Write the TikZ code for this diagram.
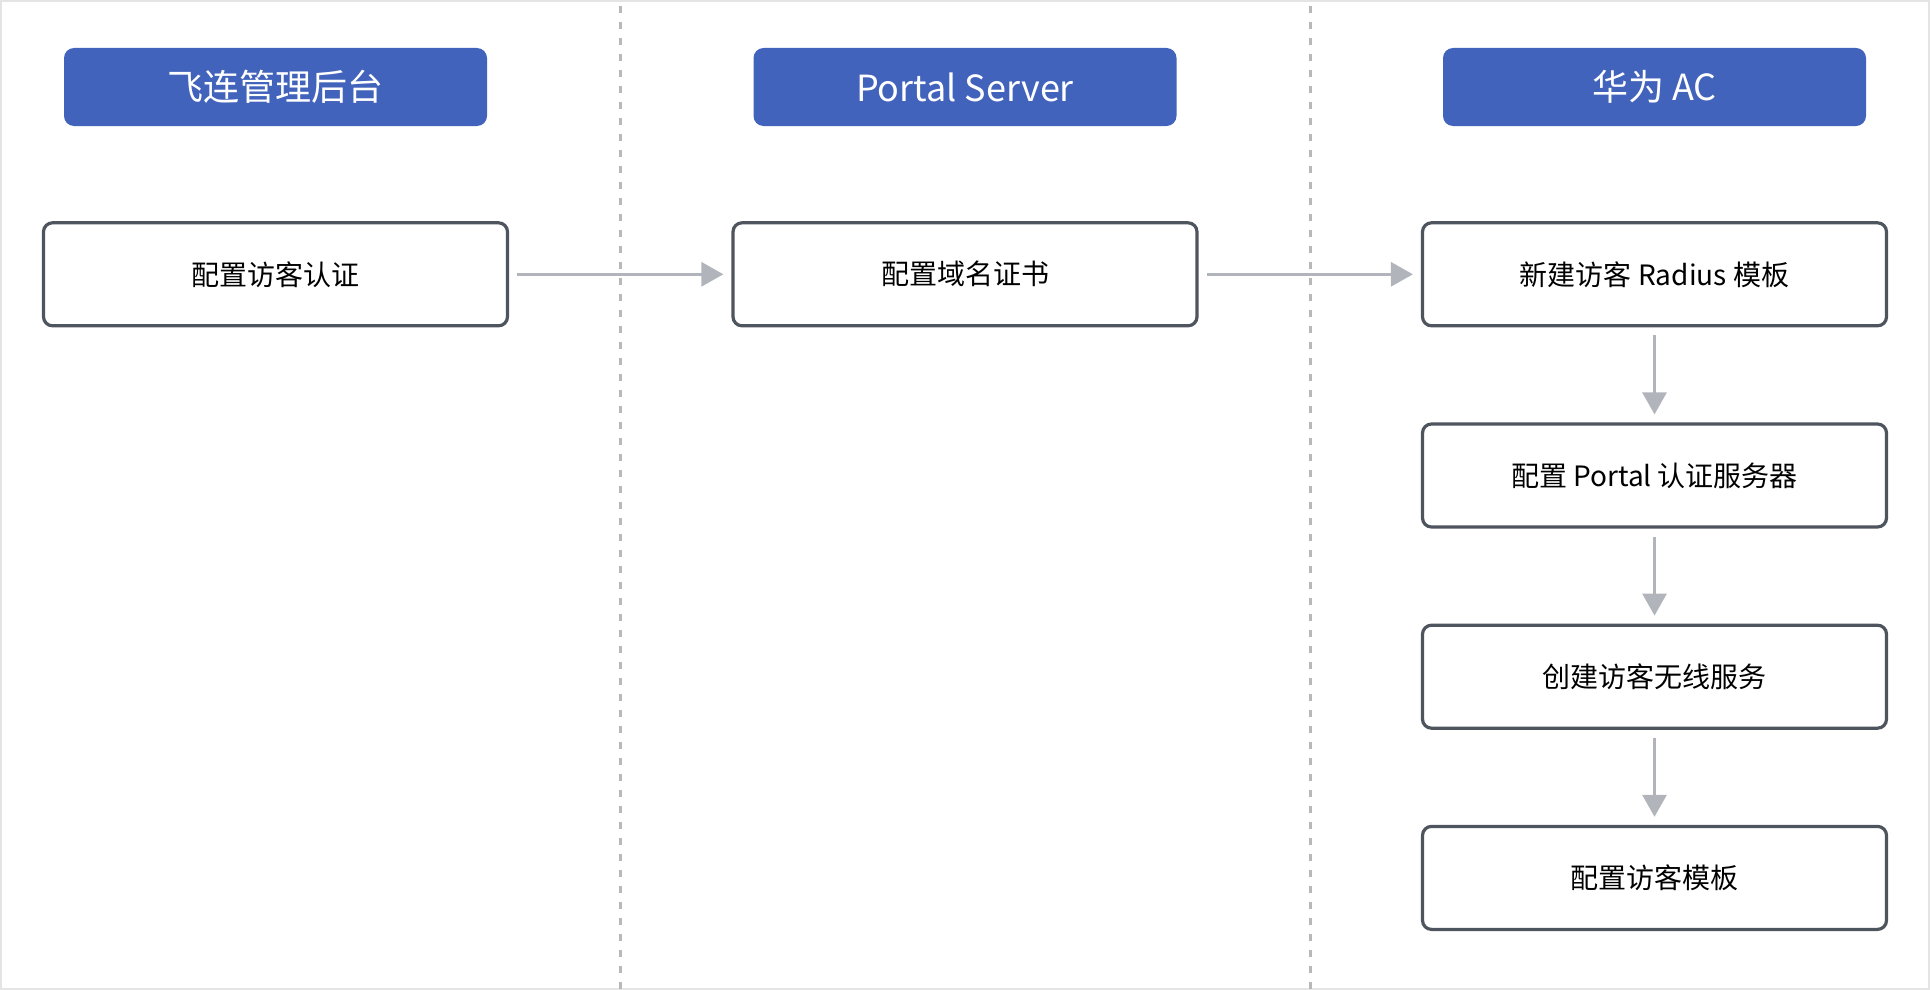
\documentclass[tikz,border=0pt]{standalone}
\usepackage{fontspec}
\setmainfont{Noto Sans CJK SC}
\usetikzlibrary{positioning,arrows.meta}
\definecolor{headblue}{HTML}{4263BC}
\definecolor{boxline}{HTML}{4F555E}
\definecolor{arrowgray}{HTML}{B1B4BB}
\definecolor{lanegray}{HTML}{B8B8B8}
\definecolor{framegray}{HTML}{E4E4E4}
\tikzset{
  lanehead/.style={fill=headblue, text=white, rounded corners=10pt, minimum width=423pt, minimum height=78pt, font=\fontsize{36}{42}\selectfont},
  stepbox/.style={draw=boxline, line width=3.2pt, fill=white, rounded corners=9pt, minimum width=464pt, minimum height=103pt, font=\fontsize{28}{34}\selectfont},
  flow/.style={draw=arrowgray, line width=3pt, -{Triangle[length=22pt,width=24pt]}, shorten <=8pt, shorten >=8pt},
  lanesep/.style={draw=lanegray, line width=3pt, dash pattern=on 7pt off 9pt}
}
\begin{document}
\begin{tikzpicture}[x=1pt, y=-1pt, node distance=95pt]
    \useasboundingbox (0,0) rectangle (1930,990);
    \draw[framegray, line width=2pt] (1,1) rectangle (1929,989);

    % lane separators
    \coordinate (d1t) at (620,6);
    \coordinate (d1b) at (620,990);
    \coordinate (d2t) at (1310,6);
    \coordinate (d2b) at (1310,990);
    \draw[lanesep] (d1t) -- (d1b);
    \draw[lanesep] (d2t) -- (d2b);

    % lane headers
    \node[lanehead] (h1) at (275.5,87) {飞连管理后台};
    \node[lanehead] (h2) at (965,87) {Portal Server};
    \node[lanehead] (h3) at (1654.5,87) {华为 AC};

    % steps
    \node[stepbox] (a1) [below=of h1] {配置访客认证};
    \node[stepbox] (b1) [below=of h2] {配置域名证书};
    \node[stepbox] (c1) [below=of h3] {新建访客 Radius 模板};
    \node[stepbox] (c2) [below=of c1] {配置 Portal 认证服务器};
    \node[stepbox] (c3) [below=of c2] {创建访客无线服务};
    \node[stepbox] (c4) [below=of c3] {配置访客模板};

    \draw[flow] (a1) -- (b1);
    \draw[flow] (b1) -- (c1);
    \draw[flow] (c1) -- (c2);
    \draw[flow] (c2) -- (c3);
    \draw[flow] (c3) -- (c4);
\end{tikzpicture}
\end{document}
